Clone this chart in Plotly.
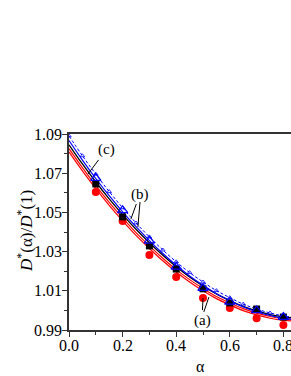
import plotly.graph_objects as go

# curve sample points
alpha_curve = [0.0, 0.05, 0.1, 0.15, 0.2, 0.25, 0.3, 0.35, 0.4, 0.45, 0.5, 0.55, 0.6, 0.65, 0.7, 0.75, 0.8, 0.85]
black_curve = [1.0845, 1.0747, 1.0655, 1.0569, 1.0489, 1.0414, 1.0345, 1.0281, 1.0223, 1.0171, 1.0125, 1.0084, 1.0050, 1.0020, 0.9997, 0.9979, 0.9967, 0.9961]
red_curve1 = [1.0825, 1.0728, 1.0636, 1.0551, 1.0472, 1.0397, 1.0329, 1.0266, 1.0208, 1.0157, 1.0112, 1.0071, 1.0038, 1.0009, 0.9986, 0.9969, 0.9958, 0.9953]
red_curve2 = [1.0809, 1.0712, 1.0621, 1.0536, 1.0457, 1.0383, 1.0316, 1.0253, 1.0196, 1.0145, 1.0100, 1.0060, 1.0028, 0.9999, 0.9977, 0.9960, 0.9949, 0.9945]
blue_curve = [1.0867, 1.0767, 1.0673, 1.0585, 1.0503, 1.0427, 1.0356, 1.0290, 1.0230, 1.0176, 1.0128, 1.0085, 1.0049, 1.0018, 0.9993, 0.9974, 0.9960, 0.9953]
blue_dash_curve = [1.0890, 1.0789, 1.0695, 1.0606, 1.0524, 1.0446, 1.0375, 1.0308, 1.0248, 1.0193, 1.0145, 1.0101, 1.0065, 1.0032, 1.0007, 0.9987, 0.9972, 0.9964]

# measured points
alpha_pts = [0.1, 0.2, 0.3, 0.4, 0.5, 0.6, 0.7, 0.8]
red_pts = [1.0604, 1.0456, 1.0283, 1.0170, 1.0063, 1.0012, 0.9960, 0.9926]
black_pts = [1.0645, 1.0477, 1.0329, 1.0211, 1.0110, 1.0038, 1.0007, 0.9966]
blue_pts = [1.0675, 1.0510, 1.0355, 1.0222, 1.0114, 1.0043, 1.0000, 0.9966]

x_ticks = [0.0, 0.2, 0.4, 0.6, 0.8]
x_ticklabels = ["0.0", "0.2", "0.4", "0.6", "0.8"]
y_ticks = [0.99, 1.01, 1.03, 1.05, 1.07, 1.09]
y_ticklabels = ["0.99", "1.01", "1.03", "1.05", "1.07", "1.09"]

RED = "#ff0000"
BLUE = "#0000ff"
FONT = "Liberation Serif"

fig = go.Figure()
fig.add_trace(go.Scatter(x=alpha_curve, y=red_curve2, mode="lines", line=dict(color=RED, width=1.2, shape="spline")))
fig.add_trace(go.Scatter(x=alpha_curve, y=red_curve1, mode="lines", line=dict(color=RED, width=1.2, shape="spline")))
fig.add_trace(go.Scatter(x=alpha_curve, y=black_curve, mode="lines", line=dict(color="black", width=1.3, shape="spline")))
fig.add_trace(go.Scatter(x=alpha_curve, y=blue_curve, mode="lines", line=dict(color=BLUE, width=1.2, shape="spline")))
fig.add_trace(go.Scatter(x=alpha_curve, y=blue_dash_curve, mode="lines+markers",
                         line=dict(color=BLUE, width=1, dash="3px,2px", shape="spline"),
                         marker=dict(symbol="triangle-up-open", size=4, color=BLUE, line=dict(width=0.8))))
fig.add_trace(go.Scatter(x=alpha_pts, y=red_pts, mode="markers",
                         marker=dict(symbol="circle", size=8, color=RED)))
fig.add_trace(go.Scatter(x=alpha_pts, y=black_pts, mode="markers",
                         marker=dict(symbol="square", size=7, color="black")))
fig.add_trace(go.Scatter(x=alpha_pts, y=blue_pts, mode="markers",
                         marker=dict(symbol="triangle-up-open", size=9, color=BLUE, line=dict(width=1.2))))

ann_font = dict(family=FONT, size=15, color="black")
tick_font = dict(family=FONT, size=16, color="black")
annotations = [
    dict(x=0.071, y=1.0696, ax=18, ay=-24, text="(c)", showarrow=True, arrowhead=0, arrowwidth=1, arrowcolor="black", font=ann_font),
    dict(x=0.231, y=1.0466, ax=9, ay=-25, text="(b)", showarrow=True, arrowhead=0, arrowwidth=1, arrowcolor="black", font=ann_font),
    dict(x=0.500, y=1.0063, ax=-1, ay=22, text="(a)", showarrow=True, arrowhead=0, arrowwidth=1, arrowcolor="black", font=ann_font),
    dict(xref="paper", yref="paper", x=(200 - 69) / 222, y=-(366 - 330) / 196, text="α", showarrow=False,
         font=dict(family=FONT, size=16, color="black"), xanchor="center", yanchor="middle"),
    dict(xref="paper", yref="paper", x=-(69 - 25) / 222, y=(330 - 231) / 196,
         text="<i>D</i><sup>*</sup>(α)/<i>D</i><sup>*</sup>(1)", textangle=-90, showarrow=False,
         font=dict(family=FONT, size=17, color="black"), xanchor="center", yanchor="middle"),
]
# tick labels drawn as text annotations (serif font)
for v, t in zip(y_ticks, y_ticklabels):
    annotations.append(dict(xref="paper", yref="y", x=0, y=v, text=t, showarrow=False,
                            xanchor="right", yanchor="middle", xshift=-5, font=tick_font))
for v, t in zip(x_ticks, x_ticklabels):
    annotations.append(dict(xref="x", yref="paper", x=v, y=0, text=t, showarrow=False,
                            xanchor="center", yanchor="middle", yshift=-15, font=tick_font))

shapes = [
    dict(type="line", xref="x", yref="y", x0=0.265, y0=1.0553, x1=0.257, y1=1.0425, line=dict(color="black", width=1)),
    dict(type="line", xref="x", yref="y", x0=0.503, y0=0.9992, x1=0.522, y1=1.0068, line=dict(color="black", width=1)),
]

fig.update_layout(
    width=291, height=376,
    margin=dict(l=69, r=0, t=134, b=46),
    paper_bgcolor="white", plot_bgcolor="white",
    showlegend=False,
    annotations=annotations,
    shapes=shapes,
    font=dict(family=FONT, size=15, color="black"),
)
fig.update_xaxes(range=[0, 222 / 268], tickvals=x_ticks, showticklabels=False,
                 showgrid=False, zeroline=False, showline=True, linecolor="#333", linewidth=1.5,
                 mirror=True, ticks="outside", ticklen=5, tickwidth=1, tickcolor="#333",
                 minor=dict(dtick=0.1, ticks="outside", ticklen=3, tickcolor="#333"))
fig.update_yaxes(range=[0.99, 1.09], tickvals=y_ticks, showticklabels=False,
                 showgrid=False, zeroline=False, showline=True, linecolor="#333", linewidth=1.5,
                 ticks="outside", ticklen=5, tickwidth=1, tickcolor="#333",
                 minor=dict(dtick=0.01, ticks="outside", ticklen=3, tickcolor="#333"))

fig.write_html("out.html", config={"displayModeBar": False},
               post_script="document.body.style.margin='0';document.body.style.overflow='hidden';")
